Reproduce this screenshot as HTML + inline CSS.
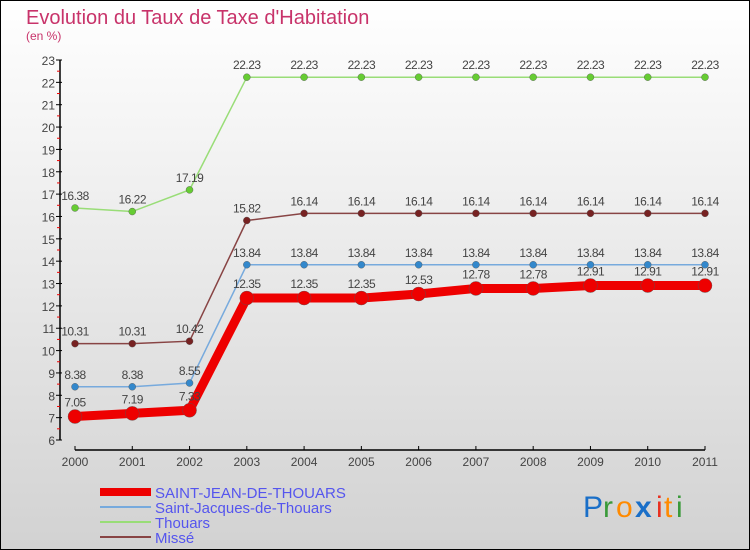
<!DOCTYPE html>
<html><head><meta charset="utf-8"><style>
body{margin:0;}
#wrap{position:relative;width:750px;height:550px;overflow:hidden;font-family:"Liberation Sans",sans-serif;}
svg text{font-family:"Liberation Sans",sans-serif;}
</style></head><body>
<div id="wrap">
<svg id="chart" width="750" height="550" xmlns="http://www.w3.org/2000/svg">
<defs><linearGradient id="bg" x1="0" y1="0" x2="0" y2="1"><stop offset="0" stop-color="#ffffff"/><stop offset="1" stop-color="#d2d2d2"/></linearGradient></defs>
<rect x="0.5" y="0.5" width="749" height="549" fill="url(#bg)" stroke="#000"/>
<text x="26" y="24" font-size="20" fill="#c8336a">Evolution du Taux de Taxe d'Habitation</text>
<text x="26" y="40" font-size="12" fill="#c8336a">(en %)</text>
<g id="axes"></g><g id="series"></g><g id="legend"></g>
<g font-size="30" font-family="Liberation Sans">
<text x="583" y="517" fill="#1a6fc8">P</text><text x="603" y="517" fill="#3a9a3a">r</text><text x="616" y="517" fill="#ff8a00">o</text><text x="635" y="517" fill="#1a6fc8" font-weight="bold">x</text><text x="656" y="517" fill="#e83020">i</text><text x="664" y="517" fill="#ff8a00">t</text><text x="676" y="517" fill="#3a9a3a">i</text>
</g>
</svg>
</div>
<script>
const years=["2000","2001","2002","2003","2004","2005","2006","2007","2008","2009","2010","2011"];
const yTicks=[6,7,8,9,10,11,12,13,14,15,16,17,18,19,20,21,22,23];
const stJean=[7.05,7.19,7.33,12.35,12.35,12.35,12.53,12.78,12.78,12.91,12.91,12.91];
const stJacques=[8.38,8.38,8.55,13.84,13.84,13.84,13.84,13.84,13.84,13.84,13.84,13.84];
const thouars=[16.38,16.22,17.19,22.23,22.23,22.23,22.23,22.23,22.23,22.23,22.23,22.23];
const misse=[10.31,10.31,10.42,15.82,16.14,16.14,16.14,16.14,16.14,16.14,16.14,16.14];
const NS="http://www.w3.org/2000/svg";
const X=i=>75+i*(630/11);
const Y=v=>440-(v-6)*(380/17);
function mk(tag,attrs,parent,txt){const e=document.createElementNS(NS,tag);for(const k in attrs)e.setAttribute(k,attrs[k]);if(txt!==undefined)e.textContent=txt;parent.appendChild(e);return e;}
const axes=document.getElementById('axes');
let a=mk('line',{x1:60,y1:Y(23),x2:60,y2:440,stroke:'#000','stroke-width':1.5},axes);


yTicks.forEach(t=>{
 mk('line',{x1:56,y1:Y(t),x2:62,y2:Y(t),stroke:'#000'},axes);
 if(t<23) mk('line',{x1:57,y1:Y(t+0.5),x2:60,y2:Y(t+0.5),stroke:'#e00'},axes);
 let l=mk('text',{x:55,y:Y(t)+5,'font-size':12,fill:'#444','text-anchor':'end'},axes,String(t));
 
 
});
a=mk('line',{x1:75,y1:450,x2:705,y2:450,stroke:'#000','stroke-width':1.5},axes);


years.forEach((y,i)=>{
 mk('line',{x1:X(i),y1:446,x2:X(i),y2:450,stroke:'#000'},axes);
 let l=mk('text',{x:X(i),y:466,'font-size':12,fill:'#444','text-anchor':'middle'},axes,y);
 
 
});
const ser=document.getElementById('series');
const defs=[
 {d:thouars,c:'#99dd77',dot:'#66cc33',w:1.5,r:3.5,n:'thouars'},
 {d:misse,c:'#884444',dot:'#772222',w:1.5,r:3.5,n:'misse'},
 {d:stJacques,c:'#77aadd',dot:'#3388cc',w:1.5,r:3.5,n:'saint-jacques'},
 {d:stJean,c:'#ee0000',dot:'#ee0000',w:9,r:7,n:'saint-jean'}];
defs.forEach(s=>{
 const g=mk('g',{},ser);
 
 
 let pl=mk('polyline',{points:s.d.map((v,i)=>X(i)+','+Y(v)).join(' '),fill:'none',stroke:s.c,'stroke-width':s.w},g);
 
 
 s.d.forEach((v,i)=>{
  let c=mk('circle',{cx:X(i),cy:Y(v),r:s.r,fill:s.dot,stroke:'#555','stroke-width':0.4},g);
  
  
  let t=mk('text',{x:X(i),y:Y(v)-(s.w>5?10:8),'font-size':12,fill:'#444','text-anchor':'middle','letter-spacing':'-0.5'},g,String(v));
  
  
 });
});
const lg=document.getElementById('legend');
const items=[['SAINT-JEAN-DE-THOUARS','#ee0000',8],['Saint-Jacques-de-Thouars','#77aadd',2],['Thouars','#99dd77',2],['Missé','#884444',2]];
items.forEach((it,i)=>{
 const y=492+i*15;
 const g=mk('g',{},lg);
 
 
 mk('line',{x1:100,y1:y,x2:151,y2:y,stroke:it[1],'stroke-width':it[2]},g);
 mk('text',{x:155,y:y+6,'font-size':15,fill:'#5555ee'},g,it[0]);
});
</script>
</body></html>
